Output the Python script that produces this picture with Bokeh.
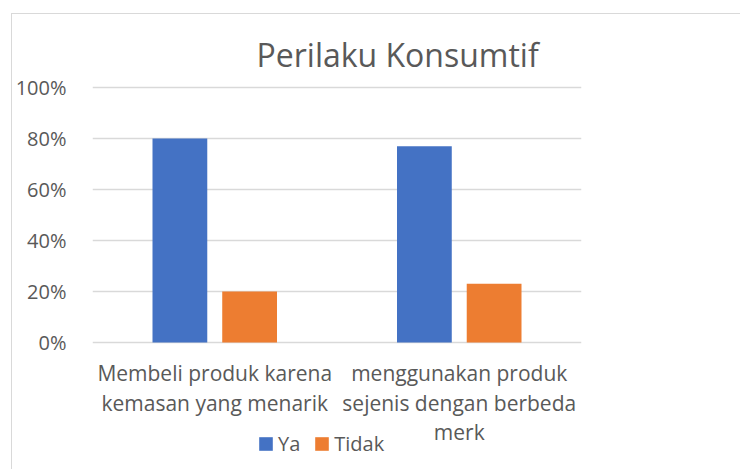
from bokeh.plotting import figure
from bokeh.models import ColumnDataSource, NumeralTickFormatter, Legend, LegendItem
from bokeh.transform import dodge
from bokeh.embed import file_html
from bokeh.resources import INLINE

title = "Perilaku Konsumtif"
categories = ["Membeli produk karena\nkemasan yang menarik",
              "menggunakan produk\nsejenis dengan berbeda\nmerk"]
series_names = ["Ya", "Tidak"]
ya = [0.80, 0.77]
tidak = [0.20, 0.23]
y_ticks = [0, 0.2, 0.4, 0.6, 0.8, 1.0]
colors = ["#4472C4", "#ED7D31"]

FONT = "Open Sans"
TXT = "#595959"

src = ColumnDataSource(dict(cat=categories, ya=ya, tidak=tidak, base=[0, 0]))

# value axis spans 0..1; extra room below 0 holds category labels and legend
p = figure(x_range=categories, y_range=(-0.4706, 1.0078), width=729, height=456,
           output_backend="svg", toolbar_location=None,
           min_border_left=78, min_border_right=160, min_border_top=71, min_border_bottom=8)
p.styles = {"margin-left": "11px", "margin-top": "13px",
            "border-top": "1px solid #d9d9d9", "border-left": "1px solid #d9d9d9"}

r1 = p.vbar(x=dodge("cat", -0.1426, range=p.x_range), top="ya", width=0.224, source=src,
            fill_color=colors[0], line_color=None)
r2 = p.vbar(x=dodge("cat", 0.1426, range=p.x_range), top="tidak", width=0.224, source=src,
            fill_color=colors[1], line_color=None)

# category labels under the 0% line
p.text(x="cat", y="base", text="cat", source=src, y_offset=17,
       text_align="center", text_baseline="top",
       text_font={"value": FONT}, text_font_size="21px", text_color=TXT,
       text_line_height=1.04)

p.title.text = title
p.title.align = "left"
p.title.offset = 164
p.title.text_font = FONT
p.title.text_font_style = "normal"
p.title.text_font_size = "32px"
p.title.text_color = TXT
p.title.standoff = 19

p.outline_line_color = None
p.background_fill_color = "white"
p.border_fill_color = "white"
p.x_range.range_padding = 0
p.xgrid.grid_line_color = None
p.ygrid.grid_line_color = "#d9d9d9"
p.ygrid.grid_line_width = 1.5
p.xaxis.visible = False

p.yaxis.formatter = NumeralTickFormatter(format="0%")
p.yaxis.ticker = y_ticks
p.yaxis.axis_line_color = None
p.yaxis.major_tick_line_color = None
p.yaxis.minor_tick_line_color = None
p.yaxis.major_label_text_font = FONT
p.yaxis.major_label_text_font_size = "20px"
p.yaxis.major_label_text_color = TXT
p.yaxis.major_label_standoff = 20

legend = Legend(items=[LegendItem(label=series_names[0], renderers=[r1]),
                       LegendItem(label=series_names[1], renderers=[r2])],
                orientation="horizontal", location=(165, 5),
                label_text_font=FONT, label_text_font_size="20px", label_text_color=TXT,
                glyph_width=17, glyph_height=17, spacing=13, label_standoff=4,
                border_line_color=None, background_fill_alpha=0, padding=0, margin=0)
p.add_layout(legend, "center")

open("out.html", "w").write(file_html(p, INLINE))
